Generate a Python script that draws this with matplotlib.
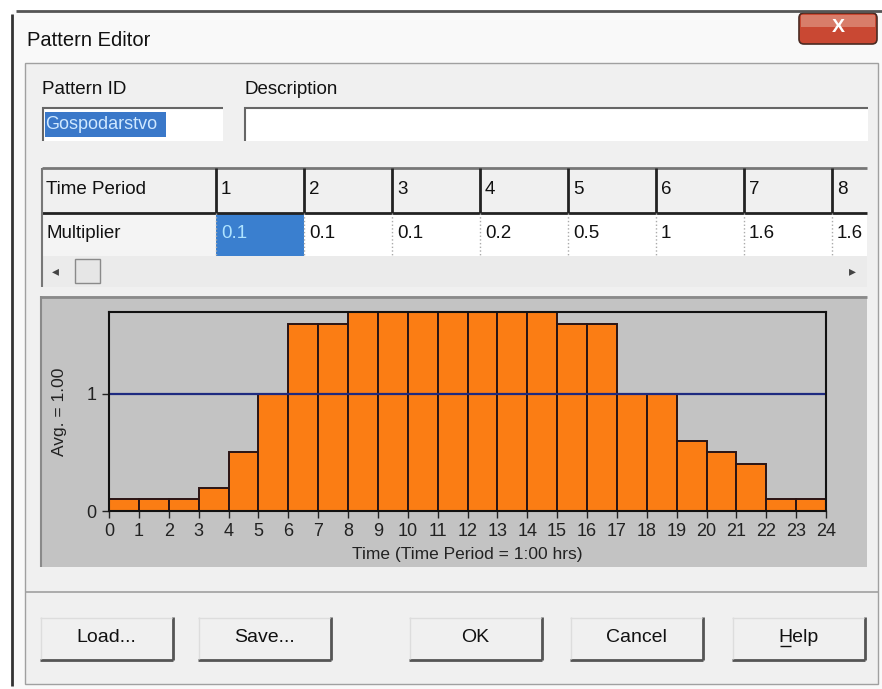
import matplotlib.pyplot as plt
from matplotlib.patches import Rectangle, FancyBboxPatch

plt.rcParams['font.family'] = ['Liberation Sans', 'DejaVu Sans']

# pattern data
periods = list(range(1, 25))
multipliers = [0.1, 0.1, 0.1, 0.2, 0.5, 1, 1.6, 1.6, 1.7, 1.7, 1.7, 1.7,
               1.7, 1.7, 1.7, 1.6, 1.6, 1, 1, 0.6, 0.5, 0.4, 0.1, 0.1]
hour_ticks = list(range(0, 25))
shown_periods = periods[:8]
shown_values = ['0.1', '0.1', '0.1', '0.2', '0.5', '1', '1.6', '1.6']
buttons = ['Load...', 'Save...', 'OK', 'Cancel', 'Help']

W, H = 882, 689
fig = plt.figure(figsize=(W / 100, H / 100), dpi=100)

# whole dialog drawn in pixel coords
bg = fig.add_axes([0, 0, 1, 1])
bg.set_xlim(0, W)
bg.set_ylim(H, 0)
bg.axis('off')

def rect(x0, y0, x1, y1, fc='none', ec='none', lw=1, z=1, **kw):
    bg.add_patch(Rectangle((x0, y0), x1 - x0, y1 - y0, facecolor=fc,
                           edgecolor=ec, linewidth=lw, zorder=z, **kw))

def line(xs, ys, c, lw=1, z=3, ls='-'):
    bg.plot(xs, ys, color=c, lw=lw, zorder=z, ls=ls, solid_capstyle='butt')

# window background
rect(0, 0, W, H, fc='white', z=0)
rect(12, 10, 882, H, fc='#f9f9f9', z=0)
line([12, 12], [14, 686], '#333333', lw=2)
line([16, 882], [11, 11], '#555555', lw=2)
bg.text(27, 40, 'Pattern Editor', fontsize=14.5, va='center', ha='left', color='#111111')

# close button
bg.add_patch(FancyBboxPatch((799, 13), 78, 31, boxstyle='round,pad=0,rounding_size=5',
                            facecolor='#c94833', edgecolor='#4a2a22', lw=1.2, zorder=2))
rect(801, 15, 875, 27, fc='#dc8b79', z=2, alpha=0.8)
bg.text(838, 28, 'X', fontsize=14, fontweight='bold', color='white', ha='center', va='center', zorder=3)

# inner panel
rect(25, 63, 878, 684, fc='#f0f0f0', ec='#a0a0a0', lw=1, z=1)

# pattern id / description
bg.text(42, 89, 'Pattern ID', fontsize=13.5, va='center', color='#111111')
bg.text(245, 89, 'Description', fontsize=13.5, va='center', color='#111111')
rect(42, 107, 223, 141, fc='white', z=2)
line([42, 223], [107.5, 107.5], '#666666', lw=1.5)
line([42.5, 42.5], [107, 141], '#666666', lw=1.5)
rect(45, 112, 166, 137, fc='#3a78c9', z=3)
bg.text(45, 124.5, 'Gospodarstvo', fontsize=13, va='center', color='#cfe8ff', zorder=4)
rect(244, 107, 868, 141, fc='white', z=2)
line([244, 868], [107.5, 107.5], '#666666', lw=1.5)
line([244.5, 244.5], [107, 141], '#666666', lw=1.5)

# pattern table
tl, tr = 42, 867
col_edges = [216 + 88 * i for i in range(8)]
rect(tl, 168, tr, 213, fc='#f0f0f0', z=2)
rect(tl, 213, 216, 256, fc='#f4f4f4', z=2)
rect(216, 213, tr, 256, fc='white', z=2)
rect(216, 213, 304, 256, fc='#3a7fcf', z=2)
line([tl, tr], [168, 168], '#777777', lw=2)
line([tl, tr], [213, 213], '#222222', lw=2)
line([tl, tl], [168, 287], '#777777', lw=1.5)
for x in col_edges:
    line([x, x], [168, 213], '#222222', lw=2)
    line([x, x], [213, 256], '#aaaaaa', lw=1, ls=':')
bg.text(46, 190, 'Time Period', fontsize=13.5, va='center', color='#111111', zorder=5)
bg.text(46, 234, 'Multiplier', fontsize=13.5, va='center', color='#111111', zorder=5)
for x, p, v in zip(col_edges, shown_periods, shown_values):
    bg.text(x + 5, 190, str(p), fontsize=13.5, va='center', color='#111111', zorder=5)
    tc = '#aee3ff' if x == col_edges[0] else '#111111'
    bg.text(x + 5, 234, v, fontsize=13.5, va='center', color=tc, zorder=5)

# scrollbar
rect(tl, 256, tr, 287, fc='#ebebeb', z=2)
rect(75, 259, 100, 283, fc='#e6e6e6', ec='#8a8a8a', lw=1, z=3)
bg.text(55, 271, '\u25c2', fontsize=10, ha='center', va='center', color='#444444', zorder=4)
bg.text(852, 271, '\u25b8', fontsize=10, ha='center', va='center', color='#444444', zorder=4)

# chart panel
rect(40, 296, 867, 567, fc='#c3c3c3', z=2)
line([40, 867], [296.5, 296.5], '#8a8a8a', lw=2)
line([40.5, 40.5], [296, 567], '#8a8a8a', lw=1.5)
line([25, 878], [592, 592], '#a0a0a0', lw=1.2)

# buttons
btn_x = [40, 198, 409, 570, 732]
for x, label in zip(btn_x, buttons):
    rect(x, 617, x + 133, 660, fc='#f0f0f0', z=2)
    line([x, x + 133], [659.5, 659.5], '#555555', lw=2)
    line([x + 133, x + 133], [617, 660], '#555555', lw=2)
    line([x, x + 132], [617.5, 617.5], '#dddddd', lw=1)
    line([x + 0.5, x + 0.5], [617, 659], '#dddddd', lw=1)
    bg.text(x + 66.5, 638, label, fontsize=14, ha='center', va='center', color='#111111', zorder=5)
line([780, 791], [646, 646], '#111111', lw=1, z=6)

# the chart itself
ax = fig.add_axes([109 / W, 1 - 511 / H, (826 - 109) / W, (511 - 312) / H])
ax.set_facecolor('#c3c3c3')
ax.bar(hour_ticks[:-1], multipliers, width=1, align='edge', color='#fb7d14',
       edgecolor='#2a1414', linewidth=1.4, zorder=2)
avg = sum(multipliers) / len(multipliers)
ax.axhline(avg, color='#1e2a80', lw=1.6, zorder=3)
ax.set_xlim(0, 24)
ax.set_ylim(0, max(multipliers))
ax.set_xticks(hour_ticks)
ax.set_yticks([0, 1])
ax.set_yticklabels(['0', '1'])
ax.tick_params(axis='both', labelsize=13, colors='#222222', length=5, width=1, pad=4)
for s in ax.spines.values():
    s.set_color('#111111')
    s.set_linewidth(1.5)
    s.set_zorder(4)
ax.set_ylabel(f'Avg. = {avg:.2f}', fontsize=12.5, color='#222222', labelpad=14)
ax.set_xlabel('Time (Time Period = 1:00 hrs)', fontsize=12.5, color='#222222', labelpad=5)

fig.savefig('out.png', dpi=100)
